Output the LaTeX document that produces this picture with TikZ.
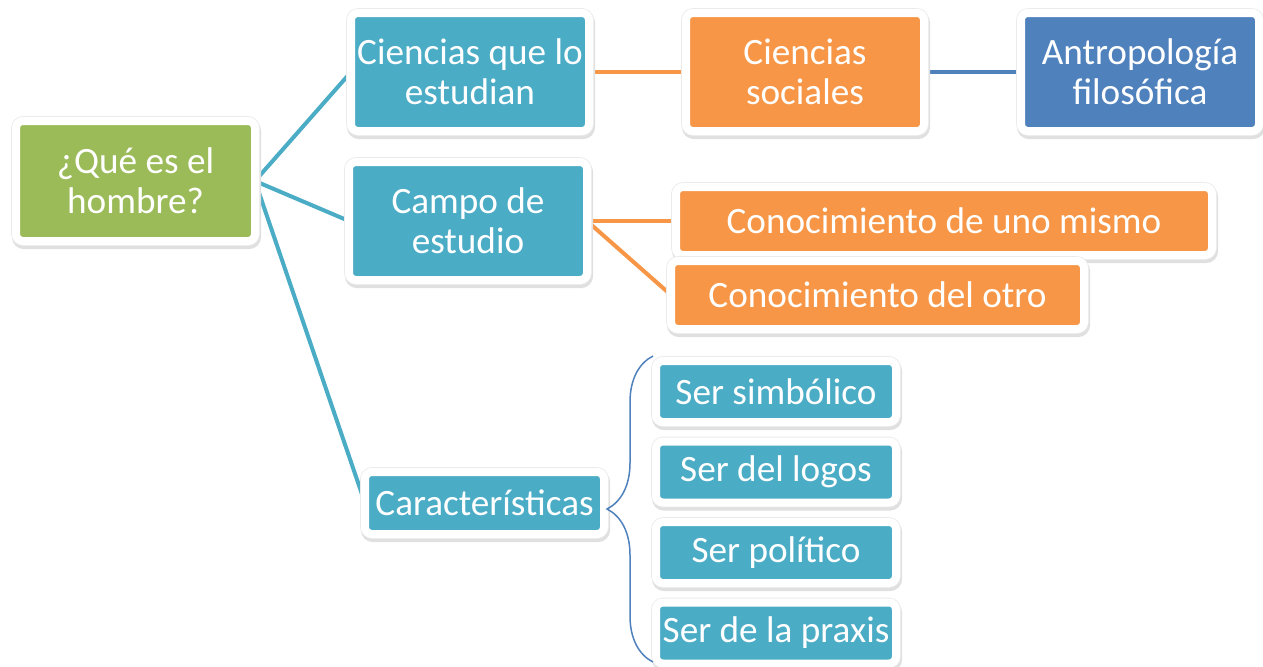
\documentclass[tikz,border=0pt]{standalone}
\usepackage{fontspec}
\setmainfont{Carlito}
\usetikzlibrary{positioning,backgrounds,decorations.pathreplacing}

\definecolor{hgreen}{HTML}{9BBB59}
\definecolor{hteal}{HTML}{4BACC6}
\definecolor{horange}{HTML}{F79646}
\definecolor{hblue}{HTML}{4F81BD}

\tikzset{
  caja/.style={rectangle, rounded corners=3.5pt, draw=white, line width=4pt,
    inner sep=0pt, outer sep=0pt, text=white, align=center,
    font=\fontsize{18.6}{20}\selectfont,
    preaction={draw=black!12, line width=5pt,
      transform canvas={shift={(0.5pt,-1.5pt)}}},
    preaction={draw=black!8, line width=4.8pt}},
  grande/.style={caja, minimum width=119pt, minimum height=59pt},
  tira/.style={caja, minimum height=34pt},
  rasgo/.style={caja, fill=hteal, minimum width=120pt, minimum height=30.5pt},
  enlace/.style={line width=2pt}
}

\begin{document}
\begin{tikzpicture}[x=0.5pt, y=-0.5pt, node distance=9.75pt]
  \useasboundingbox (0,0) rectangle (1263,666);

  % raiz
  \node [grande, fill=hgreen, minimum width=119.5pt, minimum height=60pt] (hombre) at (135.5,181) {¿Qué es el\\hombre?};

  % primera rama
  \node [grande, fill=hteal] (ciencias) at (470,72) {Ciencias que lo\\estudian};
  \node [grande, fill=horange] (sociales) at (805,72) {Ciencias\\sociales};
  \node [grande, fill=hblue] (antropo) at (1140,72) {Antropología\\filosófica};

  % segunda rama
  \node [grande, fill=hteal] (campo) at (468,221) {Campo de\\estudio};
  \node [tira, fill=horange, minimum width=268pt] (mismo) at (944,221) {Conocimiento de uno mismo};
  \node [tira, fill=horange, minimum width=206.5pt] (otro) at (877.5,295) {Conocimiento del otro};

  % tercera rama
  \node [caja, fill=hteal, minimum width=119.5pt, minimum height=31pt] (rasgos) at (484.5,503) {Características};
  \node [rasgo] (simbolico) at (776,391.5) {Ser simbólico};
  \node [rasgo, below=of simbolico] (logos) {Ser del logos};
  \node [rasgo, below=of logos] (politico) {Ser político};
  \node [rasgo, below=of politico] (praxis) {Ser de la praxis};

  \coordinate (llaveA) at (653,662);
  \coordinate (llaveB) at (653,356);

  \begin{scope}[on background layer]
    \fill[white] (0,0) rectangle (1263,666);
    \draw[enlace, hteal] (hombre.east) -- (ciencias.west);
    \draw[enlace, hteal] (hombre.east) -- (campo.west);
    \draw[enlace, hteal] (hombre.east) -- (rasgos.west);
    \draw[enlace, horange] (ciencias.east) -- (sociales.west);
    \draw[enlace, hblue] (sociales.east) -- (antropo.west);
    \draw[enlace, horange] (campo.east) -- (mismo.west);
    \draw[enlace, horange] (campo.east) -- (otro.west);
  \end{scope}

  \draw[hblue, line width=0.75pt, decorate, decoration={brace, amplitude=23pt}] (llaveA) -- (llaveB);
\end{tikzpicture}
\end{document}
